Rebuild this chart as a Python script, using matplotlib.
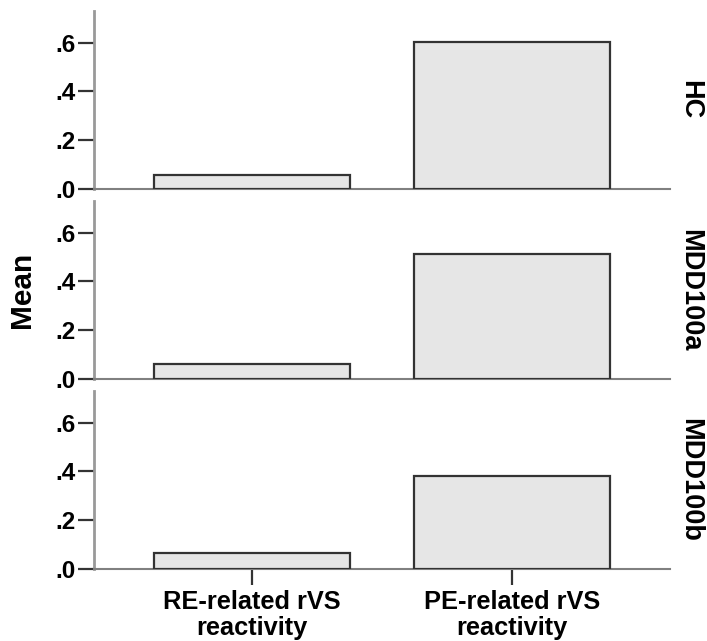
import matplotlib.pyplot as plt
import numpy as np

plt.rcParams['font.family'] = ['Liberation Sans', 'DejaVu Sans']
plt.rcParams['font.weight'] = 'bold'

categories = ["RE-related rVS\nreactivity", "PE-related rVS\nreactivity"]
groups = ["HC", "MDD100a", "MDD100b"]
means_hc = [0.057, 0.601]
means_mdd100a = [0.062, 0.514]
means_mdd100b = [0.064, 0.379]
yticks = [0.0, 0.2, 0.4, 0.6]
ytick_labels = [".0", ".2", ".4", ".6"]

all_means = [means_hc, means_mdd100a, means_mdd100b]

fig = plt.figure(figsize=(7.07, 6.41), dpi=100)

W, H = 707, 641
left, right = 94, 670
panel_px = [(11, 189), (201, 379), (391, 568.5)]

x = np.arange(len(categories))
for i, (top, bottom) in enumerate(panel_px):
    ax = fig.add_axes([left / W, (H - bottom) / H, (right - left) / W, (bottom - top) / H])
    ax.bar(x, all_means[i], width=0.755, color='#e6e6e6', edgecolor='#333333',
           linewidth=1.6, zorder=3)
    ax.set_xlim(-0.61, 1.61)
    ax.set_ylim(0, 0.73)
    ax.set_yticks(yticks)
    ax.set_yticklabels(ytick_labels, fontsize=17.5, fontweight='bold')
    ax.tick_params(axis='y', length=11.5, width=1.6, color='#333333', pad=1.5)
    for s in ['top', 'right']:
        ax.spines[s].set_visible(False)
    ax.spines['left'].set_color('#999999')
    ax.spines['left'].set_linewidth(2)
    ax.spines['bottom'].set_color('#808080')
    ax.spines['bottom'].set_linewidth(1.5)
    ax.set_xticks(x)
    if i < 2:
        ax.tick_params(axis='x', length=0, labelbottom=False)
    else:
        ax.set_xticklabels(categories, fontsize=18.3, fontweight='bold', linespacing=1.1)
        ax.tick_params(axis='x', length=11.5, width=1.6, color='#333333', pad=4)
    fig.text(690 / W, (H - (top + bottom) / 2) / H, groups[i], rotation=-90,
             ha='center', va='center', fontsize=19.5, fontweight='bold')

fig.text(22 / W, (H - 290) / H, "Mean", rotation=90, ha='center', va='center',
         fontsize=21.5, fontweight='bold')

fig.savefig("out.png", dpi=100)
